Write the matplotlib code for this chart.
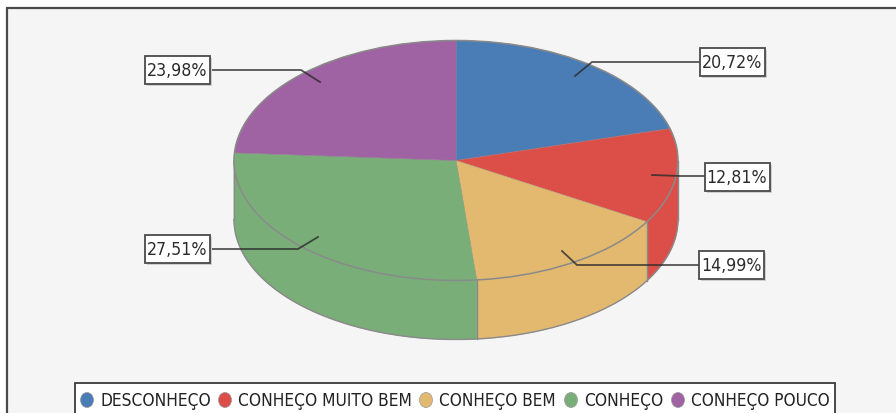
import numpy as np
import matplotlib
matplotlib.use("Agg")
import matplotlib.pyplot as plt
from matplotlib.patches import Wedge, Polygon, Ellipse, Rectangle
from matplotlib.transforms import Affine2D

categories = ["DESCONHEÇO", "CONHEÇO MUITO BEM", "CONHEÇO BEM", "CONHEÇO", "CONHEÇO POUCO"]
values = [20.72, 12.81, 14.99, 27.51, 23.98]
labels = ["20,72%", "12,81%", "14,99%", "27,51%", "23,98%"]
colors = ["#4a7db5", "#dc4f49", "#e2b96f", "#79ae78", "#9f62a3"]

W, H = 896, 414
cx, cy, rx, ry, depth = 456, 161.5, 222, 120, 59
edge = "#8a8a8a"

fig = plt.figure(figsize=(W/100, H/100), dpi=100, facecolor="white")
ax = fig.add_axes([0, 0, 1, 1])
ax.set_xlim(0, W); ax.set_ylim(H, 0); ax.axis("off")
ax.add_patch(Rectangle((6.5, 8.5), 910, 430, fc="#f5f5f5", ec="#4a4a4a", lw=1.6))

tr = Affine2D().scale(rx, -ry).translate(cx, cy) + ax.transData
fr = np.array(values) / sum(values) * 360
ends = 90 - np.cumsum(fr)
starts = np.r_[90, ends[:-1]]

# side walls
for s, e, c in zip(starts, ends, colors):
    lo, hi = max(e, -180), min(s, 0)
    if lo >= hi:
        continue
    t = np.radians(np.linspace(hi, lo, 80))
    x = cx + rx*np.cos(t); y = cy - ry*np.sin(t)
    pts = np.r_[np.c_[x, y], np.c_[x[::-1], y[::-1] + depth]]
    ax.add_patch(Polygon(pts, closed=True, fc=c, ec=c, lw=0.5, zorder=2))
    if lo > -179:
        ax.plot([x[-1], x[-1]], [y[-1], y[-1] + depth], color=edge, lw=1, zorder=2.5)

# outline of the wall
t = np.radians(np.linspace(0, -180, 200))
ax.plot(cx + rx*np.cos(t), cy - ry*np.sin(t) + depth, color=edge, lw=1, zorder=2.5)
ax.plot([cx+rx, cx+rx], [cy, cy+depth], color=edge, lw=1, zorder=2.5)
ax.plot([cx-rx, cx-rx], [cy, cy+depth], color=edge, lw=1, zorder=2.5)

# top surface
for s, e, c in zip(starts, ends, colors):
    ax.add_patch(Wedge((0, 0), 1, e, s, fc=c, ec=c, lw=0.3, transform=tr, zorder=3))
ax.add_patch(Ellipse((0, 0), 2, 2, fc="none", ec=edge, lw=1.1, transform=tr, zorder=3.5))
for a in starts:
    r = np.radians(a)
    ax.plot([cx, cx + rx*np.cos(r)], [cy, cy - ry*np.sin(r)], color="#8f8f8f", lw=0.5, alpha=.5, zorder=3.5)

# leader lines: anchor, elbow, label end; label centre
leaders = [((575, 77), (592, 63), (700, 63), (732.5, 63)),
           ((652, 176), (680, 177), (704, 177), (737, 178)),
           ((562, 252), (577, 266), (699, 266), (731.5, 266)),
           ((318, 238), (298, 250), (210, 250), (177.5, 250)),
           ((320, 83), (301, 71), (212, 71), (177.5, 71))]
bw, bh = 65, 28
for (a, b, c, t0), lab in zip(leaders, labels):
    ax.plot([a[0], b[0], c[0]], [a[1], b[1], c[1]], color="#2c2c2c", lw=1.3, alpha=.8, zorder=4, solid_joinstyle="miter")
    ax.add_patch(Rectangle((t0[0]-bw/2+2, t0[1]-bh/2+2), bw, bh, fc="#cfcfcf", ec="none", zorder=4.5))
    ax.add_patch(Rectangle((t0[0]-bw/2, t0[1]-bh/2), bw, bh, fc="white", ec="#4a4a4a", lw=1.3, zorder=5))
    ax.text(t0[0], t0[1], lab, ha="center", va="center", fontsize=12.7, color="#2b2b2b", zorder=6, family="DejaVu Sans", stretch="condensed")

# legend
ax.add_patch(Rectangle((75, 384.5), 760, 40, fc="white", ec="#3a3a3a", lw=1.3, zorder=5))
dots = [87, 225, 426, 571, 678]
txts = [100, 238, 439, 584, 691]
widths = [110, 173, 116, 79, 139]
for d, x, w, lab, c in zip(dots, txts, widths, categories, colors):
    ax.add_patch(Ellipse((d, 401), 13, 15, fc=c, ec="#9a9a9a", lw=0.5, zorder=6))
    tx = ax.text(x, 401, lab, ha="left", va="center", fontsize=12.5, color="#222222", zorder=6,
                 family="DejaVu Sans", stretch="condensed")
    fig.canvas.draw()
    bb = tx.get_window_extent()
    tx.set_fontsize(12.5 * w / bb.width)

fig.savefig("out.png", dpi=100, facecolor="white")
